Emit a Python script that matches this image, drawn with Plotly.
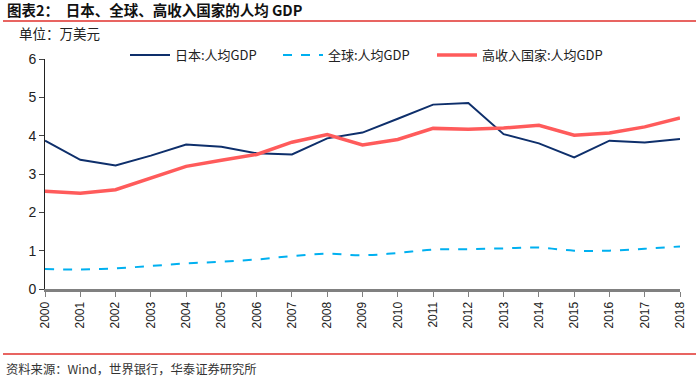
import plotly.graph_objects as go

years = list(range(2000, 2019))
japan = [3.87, 3.37, 3.22, 3.48, 3.77, 3.71, 3.54, 3.51, 3.93, 4.08, 4.44, 4.81, 4.85, 4.04, 3.80, 3.43, 3.87, 3.82, 3.91]
world = [0.52, 0.51, 0.54, 0.60, 0.67, 0.71, 0.77, 0.86, 0.92, 0.88, 0.94, 1.03, 1.04, 1.06, 1.08, 1.00, 1.00, 1.05, 1.11]
high_income = [2.55, 2.50, 2.59, 2.90, 3.20, 3.36, 3.51, 3.83, 4.03, 3.76, 3.90, 4.19, 4.17, 4.20, 4.27, 4.01, 4.07, 4.23, 4.46]
names = ["日本:人均GDP", "全球:人均GDP", "高收入国家:人均GDP"]

FONT = "Liberation Sans, Arial, Noto Sans CJK SC, sans-serif"
CJK = "Noto Sans CJK SC, Liberation Sans, sans-serif"

fig = go.Figure()
fig.add_trace(go.Scatter(x=years, y=japan, mode="lines", name=names[0], legend="legend",
                         line=dict(color="#0e2f6b", width=2)))
fig.add_trace(go.Scatter(x=years, y=world, mode="lines", name=names[1], legend="legend2",
                         line=dict(color="#00b0f0", width=2, dash="dash", shape="spline")))
fig.add_trace(go.Scatter(x=years, y=high_income, mode="lines", name=names[2], legend="legend3",
                         line=dict(color="#ff5b5b", width=3.5)))

L, R, T, B = 45, 20, 59, 93
W, H = 700, 382
pw, ph = W - L - R, H - T - B

def px(xp):
    return (xp - L) / pw

def py(yp):
    return (H - B - yp) / ph

def leg(xp):
    return dict(orientation="h", x=px(xp), y=py(40), xanchor="left", yanchor="top",
                font=dict(family=CJK, size=13, color="#222"),
                bgcolor="rgba(0,0,0,0)", itemwidth=40)

fig.update_layout(
    width=W, height=H,
    margin=dict(l=L, r=R, t=T, b=B, autoexpand=False),
    paper_bgcolor="white", plot_bgcolor="white",
    font=dict(family=FONT, size=12, color="#222"),
    showlegend=True,
    legend=leg(125), legend2=leg(278), legend3=leg(432),
    xaxis=dict(range=[2000, 2018], tickmode="array", tickvals=years,
               ticktext=[str(y) for y in years], tickangle=-90,
               showgrid=False, zeroline=False, showline=True, linecolor="#808080", linewidth=3,
               ticks="outside", ticklen=5, tickcolor="#808080",
               tickfont=dict(family=FONT, size=12, color="#222")),
    yaxis=dict(range=[0, 6], tickvals=[0, 1, 2, 3, 4, 5, 6],
               showgrid=False, zeroline=False, showline=True, linecolor="#222", linewidth=1,
               ticks="outside", ticklen=5, tickcolor="#444",
               tickfont=dict(family=FONT, size=14, color="#222")),
    shapes=[
        dict(type="line", xref="paper", yref="paper", x0=px(3), x1=px(696), y0=py(21), y1=py(21),
             line=dict(color="#e0312c", width=1.5)),
        dict(type="line", xref="paper", yref="paper", x0=px(3), x1=px(696), y0=py(354), y1=py(354),
             line=dict(color="#e0312c", width=1.5)),
    ],
    annotations=[
        dict(text="<b>图表2：  日本、全球、高收入国家的人均 GDP</b>", xref="paper", yref="paper",
             x=px(5), y=py(10), xanchor="left", yanchor="middle", showarrow=False,
             font=dict(family=CJK, size=14.5, color="#111")),
        dict(text="单位：万美元", xref="paper", yref="paper",
             x=px(17), y=py(33), xanchor="left", yanchor="middle", showarrow=False,
             font=dict(family=CJK, size=13.5, color="#222")),
        dict(text="资料来源：Wind，世界银行，华泰证券研究所", xref="paper", yref="paper",
             x=px(4), y=py(369), xanchor="left", yanchor="middle", showarrow=False,
             font=dict(family=CJK, size=12.3, color="#333")),
    ],
)

fig.write_html("out.html", config={"displayModeBar": False},
               post_script="document.body.style.margin='0';document.body.style.overflow='hidden';")
